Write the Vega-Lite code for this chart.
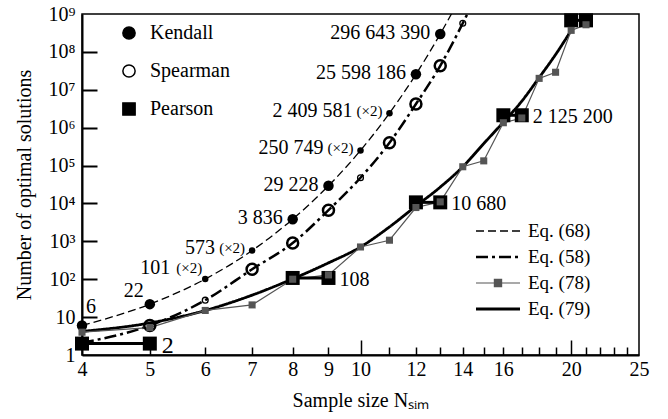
{
  "$schema": "https://vega.github.io/schema/vega-lite/v6.json",
  "width": 557,
  "height": 341,
  "autosize": {"type": "none"},
  "padding": {"left": 82, "top": 14, "right": 29, "bottom": 64},
  "background": "white",
  "config": {
    "view": {"stroke": "black", "strokeWidth": 1.5},
    "font": "Liberation Serif",
    "axis": {"grid": false}
  },
  "datasets": {
    "pts": [
      {"series": "Kendall", "N": 4, "v": 6, "x2": false},
      {"series": "Kendall", "N": 5, "v": 22, "x2": false},
      {"series": "Kendall", "N": 6, "v": 101, "x2": true},
      {"series": "Kendall", "N": 7, "v": 573, "x2": true},
      {"series": "Kendall", "N": 8, "v": 3836, "x2": false},
      {"series": "Kendall", "N": 9, "v": 29228, "x2": false},
      {"series": "Kendall", "N": 10, "v": 250749, "x2": true},
      {"series": "Kendall", "N": 11, "v": 2409581, "x2": true},
      {"series": "Kendall", "N": 12, "v": 25598186, "x2": false},
      {"series": "Kendall", "N": 13, "v": 296643390, "x2": false},
      {"series": "Spearman", "N": 5, "v": 6, "x2": false},
      {"series": "Spearman", "N": 6, "v": 28, "x2": true},
      {"series": "Spearman", "N": 7, "v": 183, "x2": false},
      {"series": "Spearman", "N": 8, "v": 900, "x2": false},
      {"series": "Spearman", "N": 9, "v": 6650, "x2": false},
      {"series": "Spearman", "N": 10, "v": 47700, "x2": true},
      {"series": "Spearman", "N": 11, "v": 400000, "x2": false},
      {"series": "Spearman", "N": 12, "v": 4200000, "x2": false},
      {"series": "Spearman", "N": 13, "v": 43000000, "x2": false},
      {"series": "Spearman", "N": 14, "v": 570000000, "x2": true},
      {"series": "Pearson", "N": 4, "v": 2, "x2": false},
      {"series": "Pearson", "N": 5, "v": 2, "x2": false},
      {"series": "Pearson", "N": 8, "v": 108, "x2": false},
      {"series": "Pearson", "N": 9, "v": 108, "x2": false},
      {"series": "Pearson", "N": 12, "v": 10680, "x2": false},
      {"series": "Pearson", "N": 13, "v": 10680, "x2": false},
      {"series": "Pearson", "N": 16, "v": 2125200, "x2": false},
      {"series": "Pearson", "N": 17, "v": 2125200, "x2": false},
      {"series": "Pearson", "N": 20, "v": 680000000, "x2": false},
      {"series": "Pearson", "N": 21, "v": 680000000, "x2": false}
    ],
    "eqs": [
      {"eq": "Eq. (68)", "N": 4, "v": 6},
      {"eq": "Eq. (68)", "N": 5, "v": 22},
      {"eq": "Eq. (68)", "N": 6, "v": 101},
      {"eq": "Eq. (68)", "N": 7, "v": 573},
      {"eq": "Eq. (68)", "N": 8, "v": 3836},
      {"eq": "Eq. (68)", "N": 9, "v": 29228},
      {"eq": "Eq. (68)", "N": 10, "v": 250749},
      {"eq": "Eq. (68)", "N": 11, "v": 2409581},
      {"eq": "Eq. (68)", "N": 12, "v": 25598186},
      {"eq": "Eq. (68)", "N": 13, "v": 296643390},
      {"eq": "Eq. (68)", "N": 14, "v": 3600000000},
      {"eq": "Eq. (58)", "N": 4, "v": 2.1},
      {"eq": "Eq. (58)", "N": 5, "v": 6},
      {"eq": "Eq. (58)", "N": 6, "v": 28},
      {"eq": "Eq. (58)", "N": 7, "v": 183},
      {"eq": "Eq. (58)", "N": 8, "v": 900},
      {"eq": "Eq. (58)", "N": 9, "v": 6650},
      {"eq": "Eq. (58)", "N": 10, "v": 47700},
      {"eq": "Eq. (58)", "N": 11, "v": 400000},
      {"eq": "Eq. (58)", "N": 12, "v": 4200000},
      {"eq": "Eq. (58)", "N": 13, "v": 43000000},
      {"eq": "Eq. (58)", "N": 14, "v": 570000000},
      {"eq": "Eq. (58)", "N": 15, "v": 8000000000},
      {"eq": "Eq. (78)", "N": 4, "v": 4},
      {"eq": "Eq. (78)", "N": 5, "v": 5.3},
      {"eq": "Eq. (78)", "N": 6, "v": 15},
      {"eq": "Eq. (78)", "N": 7, "v": 21},
      {"eq": "Eq. (78)", "N": 8, "v": 100},
      {"eq": "Eq. (78)", "N": 9, "v": 130},
      {"eq": "Eq. (78)", "N": 10, "v": 710},
      {"eq": "Eq. (78)", "N": 11, "v": 1070},
      {"eq": "Eq. (78)", "N": 12, "v": 7800},
      {"eq": "Eq. (78)", "N": 13, "v": 11000},
      {"eq": "Eq. (78)", "N": 14, "v": 93000},
      {"eq": "Eq. (78)", "N": 15, "v": 133000},
      {"eq": "Eq. (78)", "N": 16, "v": 1350000},
      {"eq": "Eq. (78)", "N": 17, "v": 1800000},
      {"eq": "Eq. (78)", "N": 18, "v": 20000000},
      {"eq": "Eq. (78)", "N": 19, "v": 29000000},
      {"eq": "Eq. (78)", "N": 20, "v": 370000000},
      {"eq": "Eq. (78)", "N": 21, "v": 520000000},
      {"eq": "Eq. (79)", "N": 4, "v": 4.2},
      {"eq": "Eq. (79)", "N": 5, "v": 7},
      {"eq": "Eq. (79)", "N": 6, "v": 15},
      {"eq": "Eq. (79)", "N": 7, "v": 38},
      {"eq": "Eq. (79)", "N": 8, "v": 102},
      {"eq": "Eq. (79)", "N": 9, "v": 270},
      {"eq": "Eq. (79)", "N": 10, "v": 710},
      {"eq": "Eq. (79)", "N": 11, "v": 2400},
      {"eq": "Eq. (79)", "N": 12, "v": 8500},
      {"eq": "Eq. (79)", "N": 13, "v": 27000},
      {"eq": "Eq. (79)", "N": 14, "v": 93000},
      {"eq": "Eq. (79)", "N": 15, "v": 380000},
      {"eq": "Eq. (79)", "N": 16, "v": 1400000},
      {"eq": "Eq. (79)", "N": 17, "v": 5000000},
      {"eq": "Eq. (79)", "N": 18, "v": 21000000},
      {"eq": "Eq. (79)", "N": 19, "v": 85000000},
      {"eq": "Eq. (79)", "N": 20, "v": 370000000}
    ],
    "klab": [
      {"N": 4, "v": 6, "num": "6"},
      {"N": 5, "v": 22, "num": "22"},
      {"N": 6, "v": 101, "num": "101"},
      {"N": 7, "v": 573, "num": "573"},
      {"N": 8, "v": 3836, "num": "3 836"},
      {"N": 9, "v": 29228, "num": "29 228"},
      {"N": 10, "v": 250749, "num": "250 749"},
      {"N": 11, "v": 2409581, "num": "2 409 581"},
      {"N": 12, "v": 25598186, "num": "25 598 186"},
      {"N": 13, "v": 296643390, "num": "296 643 390"}
    ],
    "plab": [
      {"N": 5, "v": 2, "num": "2"},
      {"N": 9, "v": 108, "num": "108"},
      {"N": 13, "v": 10680, "num": "10 680"},
      {"N": 17, "v": 2125200, "num": "2 125 200"}
    ]
  },
  "resolve": {"axis": {"x": "independent", "y": "independent"}},
  "layer": [
    {
      "data": {"name": "eqs"},
      "transform": [{"filter": "datum.eq !== 'Eq. (78)'"}],
      "mark": {"type": "line", "interpolate": "monotone", "clip": true},
      "encoding": {
        "x": {"field": "N", "type": "quantitative", "scale": {"type": "log", "domain": [4, 25], "nice": false},
          "axis": {"orient": "bottom", "values": [4, 5, 6, 7, 8, 9, 10, 12, 14, 16, 20, 25], "ticks": false,
            "domainColor": "black", "domainWidth": 2, "labelExpr": "'' + datum.value", "labelFont": "Liberation Serif",
            "labelFontSize": 20, "labelColor": "black", "labelPadding": 4, "labelFlush": false, "labelOverlap": false,
            "title": "Sample size Nₛᵢₘ", "titleFont": "Liberation Serif", "titleFontSize": 20, "titleFontWeight": "normal",
            "titleColor": "black", "titlePadding": 11}},
        "y": {"field": "v", "type": "quantitative", "scale": {"type": "log", "domain": [1, 1000000000], "nice": false},
          "axis": {"orient": "left", "values": [1, 10, 100, 1000, 10000, 100000, 1000000, 10000000, 100000000, 1000000000],
            "ticks": false, "domainColor": "black", "domainWidth": 2,
            "labelExpr": "datum.value < 5 ? '1' : datum.value < 50 ? '10' : '10' + ['','','²','³','⁴','⁵','⁶','⁷','⁸','⁹'][round(log(datum.value)/LN10)]",
            "labelFont": "Liberation Serif", "labelFontSize": 20, "labelColor": "black", "labelPadding": 7,
            "labelFlush": false, "labelOverlap": false,
            "title": "Number of optimal solutions", "titleFont": "Liberation Serif", "titleFontSize": 20,
            "titleFontWeight": "normal", "titleColor": "black", "titlePadding": 14}},
        "color": {"field": "eq", "type": "nominal",
          "scale": {"domain": ["Eq. (68)", "Eq. (58)", "Eq. (78)", "Eq. (79)"], "range": ["black", "black", "#555555", "black"]},
          "legend": {"orient": "none", "legendX": 406.5, "legendY": 207.5, "title": null, "padding": 0, "symbolSize": 400,
            "symbolOffset": 0, "labelOffset": 20.5, "rowPadding": 6, "labelFont": "Liberation Serif", "labelFontSize": 19,
            "labelColor": "black", "labelLimit": 0,
            "encode": {"symbols": {"update": {
              "shape": {"signal": "datum.value === 'Eq. (78)' ? 'M-2.2,0H2.2M-0.36,-0.36H0.36V0.36H-0.36Z' : 'M-2.2,0H2.2'"},
              "fill": {"signal": "datum.value === 'Eq. (78)' ? '#555555' : 'transparent'"},
              "strokeWidth": {"signal": "datum.value === 'Eq. (58)' ? 2.5 : datum.value === 'Eq. (79)' ? 2.8 : datum.value === 'Eq. (78)' ? 1.2 : 1.3"},
              "opacity": {"value": 1}}}}}},
        "strokeDash": {"field": "eq", "type": "nominal",
          "scale": {"domain": ["Eq. (68)", "Eq. (58)", "Eq. (78)", "Eq. (79)"], "range": [[8, 4], [12, 4, 3, 4], [1, 0], [1, 0]]},
          "legend": {"orient": "none", "legendX": 406.5, "legendY": 207.5, "title": null, "padding": 0, "symbolSize": 400,
            "symbolOffset": 0, "labelOffset": 20.5, "rowPadding": 6, "labelFont": "Liberation Serif", "labelFontSize": 19,
            "labelColor": "black", "labelLimit": 0,
            "encode": {"symbols": {"update": {
              "shape": {"signal": "datum.value === 'Eq. (78)' ? 'M-2.2,0H2.2M-0.36,-0.36H0.36V0.36H-0.36Z' : 'M-2.2,0H2.2'"},
              "fill": {"signal": "datum.value === 'Eq. (78)' ? '#555555' : 'transparent'"},
              "strokeWidth": {"signal": "datum.value === 'Eq. (58)' ? 2.5 : datum.value === 'Eq. (79)' ? 2.8 : datum.value === 'Eq. (78)' ? 1.2 : 1.3"},
              "opacity": {"value": 1}}}}}},
        "strokeWidth": {"condition": [{"test": "datum.eq === 'Eq. (58)'", "value": 2.5}, {"test": "datum.eq === 'Eq. (79)'", "value": 2.8}], "value": 1.3}
      }
    },
    {
      "data": {"name": "eqs"},
      "transform": [{"filter": "datum.eq === 'Eq. (78)'"}],
      "mark": {"type": "line", "color": "#555555", "strokeWidth": 1.2, "clip": true},
      "encoding": {
        "x": {"field": "N", "type": "quantitative", "scale": {"type": "log", "domain": [4, 25], "nice": false}, "axis": null},
        "y": {"field": "v", "type": "quantitative", "scale": {"type": "log", "domain": [1, 1000000000], "nice": false}, "axis": null}
      }
    },
    {
      "data": {"name": "pts"},
      "transform": [{"filter": "datum.series === 'Pearson'"}],
      "mark": {"type": "line", "color": "black", "strokeWidth": 3},
      "encoding": {
        "x": {"field": "N", "type": "quantitative", "scale": {"type": "log", "domain": [4, 25], "nice": false}, "axis": null},
        "y": {"field": "v", "type": "quantitative", "scale": {"type": "log", "domain": [1, 1000000000], "nice": false}, "axis": null},
        "detail": {"field": "v", "type": "nominal"}
      }
    },
    {
      "data": {"name": "pts"},
      "mark": {"type": "point", "stroke": "black", "opacity": 1},
      "encoding": {
        "x": {"field": "N", "type": "quantitative", "scale": {"type": "log", "domain": [4, 25], "nice": false}, "axis": null},
        "y": {"field": "v", "type": "quantitative", "scale": {"type": "log", "domain": [1, 1000000000], "nice": false}, "axis": null},
        "shape": {"field": "series", "type": "nominal",
          "scale": {"domain": ["Kendall", "Spearman", "Pearson"], "range": ["circle", "circle", "square"]},
          "legend": {"orient": "none", "legendX": 37, "legendY": 9, "title": null, "padding": 0, "symbolSize": 150,
            "symbolOffset": 0, "labelOffset": 11, "rowPadding": 18, "labelFont": "Liberation Serif", "labelFontSize": 20,
            "labelColor": "black", "labelLimit": 0,
            "encode": {"symbols": {"update": {
              "shape": {"signal": "datum.value === 'Kendall' ? 'M-0.9,0A0.9,0.9,0,1,0,0.9,0A0.9,0.9,0,1,0,-0.9,0Z' : datum.value === 'Pearson' ? 'M-1.15,-1.15H1.15V1.15H-1.15Z' : 'circle'"},
              "fill": {"signal": "datum.value === 'Spearman' ? 'transparent' : 'black'"},
              "stroke": {"value": "black"},
              "strokeWidth": {"signal": "datum.value === 'Spearman' ? 2.5 : 0"},
              "opacity": {"value": 1}}}}}},
        "fill": {"field": "series", "type": "nominal",
          "scale": {"domain": ["Kendall", "Spearman", "Pearson"], "range": ["black", "transparent", "black"]}, "legend": null},
        "size": {"condition": [
          {"test": "datum.series === 'Pearson'", "value": 196},
          {"test": "datum.x2 && datum.series === 'Kendall'", "value": 42},
          {"test": "datum.x2", "value": 34},
          {"test": "datum.series === 'Spearman'", "value": 121}], "value": 110},
        "strokeWidth": {"condition": [
          {"test": "datum.series === 'Spearman' && datum.x2", "value": 1.3},
          {"test": "datum.series === 'Spearman'", "value": 2.5}], "value": 0}
      }
    },
    {
      "data": {"name": "eqs"},
      "transform": [{"filter": "datum.eq === 'Eq. (78)'"}],
      "mark": {"type": "point", "shape": "square", "filled": true, "color": "#555555", "size": 50, "opacity": 1},
      "encoding": {
        "x": {"field": "N", "type": "quantitative", "scale": {"type": "log", "domain": [4, 25], "nice": false},
          "axis": {"orient": "top", "offset": -341, "values": [5, 6, 7, 8, 9, 10, 11, 12, 13, 14, 15, 16, 17, 18, 19, 20, 21, 22, 23, 24],
            "labels": false, "domain": false, "title": null, "ticks": true, "tickColor": "black", "tickWidth": 1.5,
            "tickSize": {"condition": {"test": "datum.value == 10 || datum.value == 20", "value": 15}, "value": 8}}},
        "y": {"field": "v", "type": "quantitative", "scale": {"type": "log", "domain": [1, 1000000000], "nice": false},
          "axis": {"orient": "right", "offset": -557, "values": [10, 100, 1000, 10000, 100000, 1000000, 10000000, 100000000],
            "labels": false, "domain": false, "title": null, "ticks": true, "tickColor": "black", "tickWidth": 2, "tickSize": 15}}
      }
    },
    {
      "data": {"name": "klab"},
      "transform": [{"filter": {"field": "N", "oneOf": [8, 9, 12, 13]}}],
      "mark": {"type": "text", "align": "right", "baseline": "middle", "dx": -10, "dy": -1, "font": "Liberation Serif", "fontSize": 20, "color": "black"},
      "encoding": {
        "x": {"field": "N", "type": "quantitative", "scale": {"type": "log", "domain": [4, 25], "nice": false}, "axis": null},
        "y": {"field": "v", "type": "quantitative", "scale": {"type": "log", "domain": [1, 1000000000], "nice": false}, "axis": null},
        "text": {"field": "num"}
      }
    },
    {
      "data": {"name": "klab"},
      "transform": [{"filter": {"field": "N", "oneOf": [7, 10, 11]}}],
      "mark": {"type": "text", "align": "right", "baseline": "middle", "dx": -37, "dy": -2, "font": "Liberation Serif", "fontSize": 20, "color": "black"},
      "encoding": {
        "x": {"field": "N", "type": "quantitative", "scale": {"type": "log", "domain": [4, 25], "nice": false}, "axis": null},
        "y": {"field": "v", "type": "quantitative", "scale": {"type": "log", "domain": [1, 1000000000], "nice": false}, "axis": null},
        "text": {"field": "num"}
      }
    },
    {
      "data": {"name": "klab"},
      "transform": [{"filter": {"field": "N", "oneOf": [7, 10, 11]}}],
      "mark": {"type": "text", "align": "right", "baseline": "middle", "dx": -7, "dy": -2, "font": "Liberation Serif", "fontSize": 15, "color": "black", "text": "(×2)"},
      "encoding": {
        "x": {"field": "N", "type": "quantitative", "scale": {"type": "log", "domain": [4, 25], "nice": false}, "axis": null},
        "y": {"field": "v", "type": "quantitative", "scale": {"type": "log", "domain": [1, 1000000000], "nice": false}, "axis": null}
      }
    },
    {
      "data": {"name": "klab"},
      "transform": [{"filter": "datum.N === 6"}],
      "mark": {"type": "text", "align": "right", "baseline": "middle", "dx": -35, "dy": -11, "font": "Liberation Serif", "fontSize": 20, "color": "black"},
      "encoding": {
        "x": {"field": "N", "type": "quantitative", "scale": {"type": "log", "domain": [4, 25], "nice": false}, "axis": null},
        "y": {"field": "v", "type": "quantitative", "scale": {"type": "log", "domain": [1, 1000000000], "nice": false}, "axis": null},
        "text": {"field": "num"}
      }
    },
    {
      "data": {"name": "klab"},
      "transform": [{"filter": "datum.N === 6"}],
      "mark": {"type": "text", "align": "right", "baseline": "middle", "dx": -3, "dy": -11, "font": "Liberation Serif", "fontSize": 15, "color": "black", "text": "(×2)"},
      "encoding": {
        "x": {"field": "N", "type": "quantitative", "scale": {"type": "log", "domain": [4, 25], "nice": false}, "axis": null},
        "y": {"field": "v", "type": "quantitative", "scale": {"type": "log", "domain": [1, 1000000000], "nice": false}, "axis": null}
      }
    },
    {
      "data": {"name": "klab"},
      "transform": [{"filter": "datum.N === 5"}],
      "mark": {"type": "text", "align": "right", "baseline": "middle", "dx": -6, "dy": -13, "font": "Liberation Serif", "fontSize": 20, "color": "black"},
      "encoding": {
        "x": {"field": "N", "type": "quantitative", "scale": {"type": "log", "domain": [4, 25], "nice": false}, "axis": null},
        "y": {"field": "v", "type": "quantitative", "scale": {"type": "log", "domain": [1, 1000000000], "nice": false}, "axis": null},
        "text": {"field": "num"}
      }
    },
    {
      "data": {"name": "klab"},
      "transform": [{"filter": "datum.N === 4"}],
      "mark": {"type": "text", "align": "left", "baseline": "middle", "dx": 4, "dy": -19, "font": "Liberation Serif", "fontSize": 20, "color": "black"},
      "encoding": {
        "x": {"field": "N", "type": "quantitative", "scale": {"type": "log", "domain": [4, 25], "nice": false}, "axis": null},
        "y": {"field": "v", "type": "quantitative", "scale": {"type": "log", "domain": [1, 1000000000], "nice": false}, "axis": null},
        "text": {"field": "num"}
      }
    },
    {
      "data": {"name": "plab"},
      "transform": [{"filter": "datum.N !== 5"}],
      "mark": {"type": "text", "align": "left", "baseline": "middle", "dx": 11, "dy": 2, "font": "Liberation Serif", "fontSize": 20, "color": "black"},
      "encoding": {
        "x": {"field": "N", "type": "quantitative", "scale": {"type": "log", "domain": [4, 25], "nice": false}, "axis": null},
        "y": {"field": "v", "type": "quantitative", "scale": {"type": "log", "domain": [1, 1000000000], "nice": false}, "axis": null},
        "text": {"field": "num"}
      }
    },
    {
      "data": {"name": "plab"},
      "transform": [{"filter": "datum.N === 5"}],
      "mark": {"type": "text", "align": "left", "baseline": "middle", "dx": 12, "dy": 2, "font": "Liberation Serif", "fontSize": 24, "color": "black"},
      "encoding": {
        "x": {"field": "N", "type": "quantitative", "scale": {"type": "log", "domain": [4, 25], "nice": false}, "axis": null},
        "y": {"field": "v", "type": "quantitative", "scale": {"type": "log", "domain": [1, 1000000000], "nice": false}, "axis": null},
        "text": {"field": "num"}
      }
    }
  ]
}
